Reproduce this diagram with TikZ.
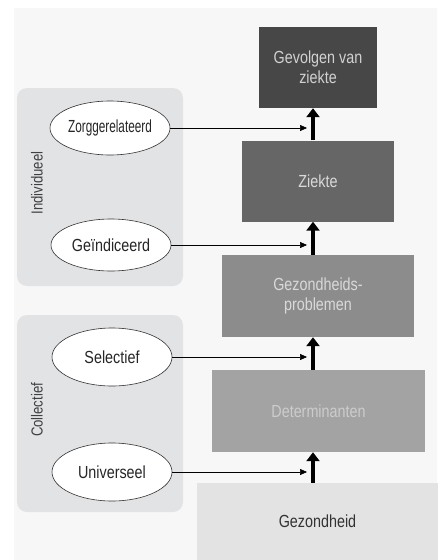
\documentclass[tikz,border=0pt]{standalone}
\usepackage{fontspec}
\setmainfont[FakeStretch=0.82]{Liberation Sans}
\usetikzlibrary{arrows.meta,shapes.geometric}
\definecolor{bgc}{HTML}{F7F7F7}
\definecolor{panelc}{HTML}{E2E3E5}
\definecolor{c1}{HTML}{474747}
\definecolor{c2}{HTML}{666666}
\definecolor{c3}{HTML}{8C8C8C}
\definecolor{c4}{HTML}{A3A3A3}
\definecolor{c5}{HTML}{E3E3E3}
\tikzset{
  stagebox/.style={rectangle, inner sep=0pt, align=center, font=\fontsize{17.5}{20}\selectfont},
  panel/.style={fill=panelc, rounded corners=10pt, draw=none},
  ell/.style={ellipse, draw=black!80, line width=0.6pt, fill=white, minimum width=120pt, minimum height=54pt, inner sep=0pt, font=\fontsize{17.5}{20}\selectfont, text=black!85},
  bigarrow/.style={line width=4pt, -{Triangle[width=13pt,length=9pt]}},
  thinarrow/.style={line width=0.6pt, -{Triangle[width=6pt,length=7pt]}, shorten >=6pt},
  sidelabel/.style={rotate=90, font=\fontsize{16}{18}\selectfont, text=black!75}
}
\begin{document}
\begin{tikzpicture}[x=1pt,y=-1pt]
\useasboundingbox (0,0) rectangle (437,560);
\fill[white] (0,0) rectangle (437,560);
\fill[bgc] (14,8) rectangle (437,560);
% panels
\fill[panel] (17,88) rectangle (183,286);
\fill[panel] (17,315) rectangle (183,512);
\node[sidelabel] (ind) at (37,183) {Individueel};
\node[sidelabel] (col) at (37,410) {Collectief};
% boxes
\node[stagebox, fill=c1, text=white!82!black, minimum width=118pt, minimum height=81pt] (gev) at (318,67.5) {Gevolgen van\\ziekte};
\node[stagebox, fill=c2, text=white!85!black, minimum width=152pt, minimum height=81pt] (zie) at (318,181) {Ziekte};
\node[stagebox, fill=c3, text=white!85!black, minimum width=192pt, minimum height=82pt] (gzp) at (318,296) {Gezondheids-\\problemen};
\node[stagebox, fill=c4, text=white!80!black, minimum width=213pt, minimum height=82pt] (det) at (318.5,411) {Determinanten};
\node[stagebox, fill=c5, text=black!80, minimum width=241pt, minimum height=77pt] (gzh) at (317.5,521.5) {Gezondheid};
% ellipses
\node[ell] (zorg) at (110,128) {\scalebox{0.82}[1]{Zorggerelateerd}};
\node[ell, minimum height=52pt] (geind) at (111,245) {Geïndiceerd};
\node[ell, minimum height=58pt] (sel) at (112,357) {Selectief};
\node[ell, minimum height=58pt] (uni) at (112,472) {Universeel};
% arrows
\coordinate (ax) at (313,0);
\draw[bigarrow] (zie.north -| ax) -- (gev.south -| ax);
\draw[bigarrow] (gzp.north -| ax) -- (zie.south -| ax);
\draw[bigarrow] (det.north -| ax) -- (gzp.south -| ax);
\draw[bigarrow] (gzh.north -| ax) -- (det.south -| ax);
\draw[thinarrow] (zorg.east) -- (zorg.east -| ax);
\draw[thinarrow] (geind.east) -- (geind.east -| ax);
\draw[thinarrow] (sel.east) -- (sel.east -| ax);
\draw[thinarrow] (uni.east) -- (uni.east -| ax);
\end{tikzpicture}
\end{document}
